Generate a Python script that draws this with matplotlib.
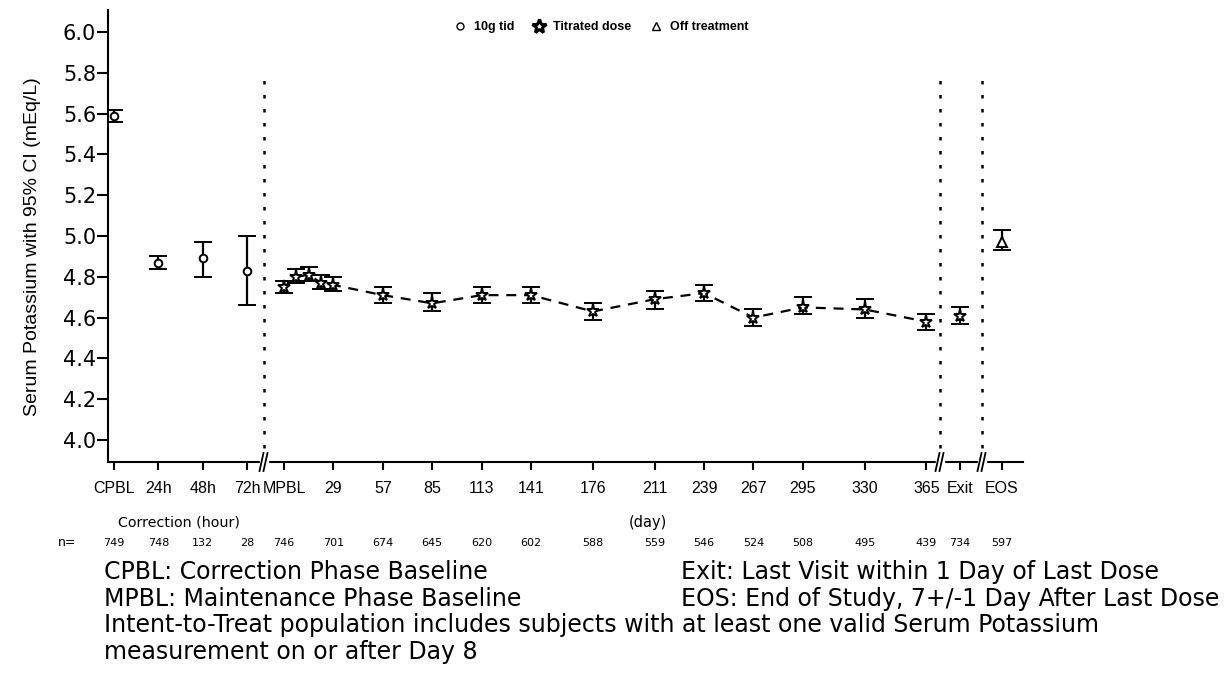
import matplotlib.pyplot as plt
import matplotlib.transforms as mtransforms
from matplotlib.lines import Line2D

plt.rcParams['font.family'] = ['Liberation Sans', 'DejaVu Sans']

# -------------------------------
# Correction phase (hours)
# -------------------------------
corr_labels = ["CPBL", "24h", "48h", "72h"]
corr_hours = [0, 24, 48, 72]
corr_mean = [5.59, 4.87, 4.89, 4.83]
corr_low = [5.56, 4.84, 4.80, 4.66]
corr_high = [5.62, 4.90, 4.97, 5.00]
corr_n = [749, 748, 132, 28]

# -------------------------------
# Maintenance phase (days)
# -------------------------------
maint_days = [1, 8, 15, 22, 29, 57, 85, 113, 141, 176, 211, 239, 267, 295, 330, 365]
maint_mean = [4.75, 4.80, 4.81, 4.77, 4.76, 4.71, 4.67, 4.71, 4.71, 4.63, 4.69, 4.72, 4.60, 4.65, 4.64, 4.58]
maint_low = [4.72, 4.77, 4.78, 4.74, 4.73, 4.67, 4.63, 4.67, 4.67, 4.59, 4.64, 4.68, 4.56, 4.62, 4.60, 4.54]
maint_high = [4.78, 4.84, 4.85, 4.81, 4.80, 4.75, 4.72, 4.75, 4.75, 4.67, 4.73, 4.76, 4.64, 4.70, 4.69, 4.62]
maint_tick_days = [1, 29, 57, 85, 113, 141, 176, 211, 239, 267, 295, 330, 365]
maint_tick_labels = ["MPBL", "29", "57", "85", "113", "141", "176", "211", "239", "267", "295", "330", "365"]
maint_n = [746, 701, 674, 645, 620, 602, 588, 559, 546, 524, 508, 495, 439]

# -------------------------------
# Exit / EOS
# -------------------------------
exit_mean, exit_low, exit_high, exit_n = 4.61, 4.57, 4.65, 734
eos_mean, eos_low, eos_high, eos_n = 4.97, 4.93, 5.03, 597

footnotes_left = ["CPBL: Correction Phase Baseline", "MPBL: Maintenance Phase Baseline"]
footnotes_right = ["Exit: Last Visit within 1 Day of Last Dose",
                   "EOS: End of Study, 7+/-1 Day After Last Dose"]
footnote_itt = ["Intent-to-Treat population includes subjects with at least one valid Serum Potassium",
                "measurement on or after Day 8"]


# x layout of the broken axis (one unit ~ one pixel)
def pos_corr(h):
    return h / 24 * 44.3


def pos_maint(d):
    return 170 + (d - 1) * 1.765


exit_x = 846
eos_x = 888
break_x = [150, 826, 868]

W, H = 1229, 677
fig = plt.figure(figsize=(W / 100, H / 100), dpi=100)
ax = fig.add_axes([108 / W, 1 - 462 / H, (1023 - 108) / W, (462 - 10) / H])

err_kw = dict(color="black", ecolor="black", elinewidth=1.6, capsize=6.5, capthick=1.6,
              markerfacecolor="white", markeredgecolor="black", zorder=3)

# correction phase: open circles, no connecting line
cx = [pos_corr(h) for h in corr_hours]
ax.errorbar(cx, corr_mean,
            yerr=[[m - l for m, l in zip(corr_mean, corr_low)],
                  [u - m for m, u in zip(corr_mean, corr_high)]],
            fmt="o", ms=5.5, mew=1.4, **err_kw)

# maintenance phase: stars joined by a dashed line
mx = [pos_maint(d) for d in maint_days]
ax.plot(mx, maint_mean, color="black", lw=1.6, ls=(0, (4.5, 3.5)), zorder=2)
ax.errorbar(mx, maint_mean,
            yerr=[[m - l for m, l in zip(maint_mean, maint_low)],
                  [u - m for m, u in zip(maint_mean, maint_high)]],
            fmt="*", ms=9.5, mew=1.4, **err_kw)

# exit (titrated dose) and EOS (off treatment)
ax.errorbar([exit_x], [exit_mean], yerr=[[exit_mean - exit_low], [exit_high - exit_mean]],
            fmt="*", ms=9.5, mew=1.4, **err_kw)
ax.errorbar([eos_x], [eos_mean], yerr=[[eos_mean - eos_low], [eos_high - eos_mean]],
            fmt="^", ms=7, mew=1.4, **err_kw)

# vertical dotted separators
for bx in break_x:
    ax.plot([bx, bx], [3.892, 5.79], color="black", lw=1.8, ls=(0, (1.4, 4.2)), zorder=1)

ax.set_xlim(-6, 909)
ax.set_ylim(3.892, 6.108)
ax.set_yticks([4.0 + 0.2 * i for i in range(11)])
ax.set_yticklabels([f"{4.0 + 0.2 * i:.1f}" for i in range(11)], family="DejaVu Sans")

tick_x = cx + [pos_maint(d) for d in maint_tick_days] + [exit_x, eos_x]
tick_labels = corr_labels + maint_tick_labels + ["Exit", "EOS"]
ax.set_xticks(tick_x)
ax.set_xticklabels(tick_labels)

for s in ["top", "right"]:
    ax.spines[s].set_visible(False)
for s in ["left", "bottom"]:
    ax.spines[s].set_linewidth(1.5)
ax.tick_params(axis="y", length=8, width=1.5, labelsize=15, pad=0.5)
ax.tick_params(axis="x", length=6, width=1.5, labelsize=11.5, pad=8)
ax.set_ylabel("Serum Potassium with 95% CI (mEq/L)", fontsize=14)
ax.yaxis.set_label_coords(-(108 - 41) / 915, (462 - 247) / 452)

# axis break marks "//"
bt = mtransforms.blended_transform_factory(ax.transData, ax.transAxes)
py = 1 / 452
for bx in break_x:
    ax.fill([bx - 4, bx + 4, bx + 4, bx - 4], [-3 * py, -3 * py, 3 * py, 3 * py],
            color="white", transform=bt, clip_on=False, zorder=5)
    for dx in (-2.5, 1.5):
        ax.plot([bx + dx - 2, bx + dx + 2], [-9 * py, 9 * py], color="black", lw=1.3,
                transform=bt, clip_on=False, zorder=6)

# phase labels and n row
ft = mtransforms.blended_transform_factory(ax.transData, fig.transFigure)
small = dict(family="DejaVu Sans", va="center")
fig.text(118 / W, 1 - 523 / H, "Correction (hour)", fontsize=10.3, ha="left", **small)
ax.text(pos_maint(211) - 26, 1 - 523 / H, "(day)", fontsize=10.5, ha="left",
        transform=ft, **small)
fig.text(58 / W, 1 - 543 / H, "n=", fontsize=9, ha="left", **small)
for x, n in zip(tick_x, corr_n + maint_n + [exit_n, eos_n]):
    ax.text(x, 1 - 543 / H, str(n), fontsize=8, ha="center", transform=ft, **small)

# legend
handles = [
    Line2D([], [], ls="none", marker="o", ms=5, mfc="white", mec="black", mew=1.0),
    Line2D([], [], ls="none", marker="*", ms=10, mfc="white", mec="black", mew=2.2),
    Line2D([], [], ls="none", marker="^", ms=6, mfc="white", mec="black", mew=1.0),
]
fig.legend(handles, ["10g tid", "Titrated dose", "Off treatment"], loc="center",
           bbox_to_anchor=(601 / W, 1 - 27 / H), ncol=3, frameon=False,
           prop={"weight": "bold", "size": 9}, handlelength=1.0, handletextpad=0.6,
           columnspacing=1.5)

# footnotes
note = dict(family="DejaVu Sans", fontsize=17, va="center", ha="left")
for i, (l, r) in enumerate(zip(footnotes_left, footnotes_right)):
    y = 1 - (572 + 26.7 * i) / H
    fig.text(104 / W, y, l, **note)
    fig.text(681 / W, y, r, **note)
for i, t in enumerate(footnote_itt):
    fig.text(104 / W, 1 - (625.4 + 26.7 * i) / H, t, **note)

fig.savefig("out.png", dpi=100)
